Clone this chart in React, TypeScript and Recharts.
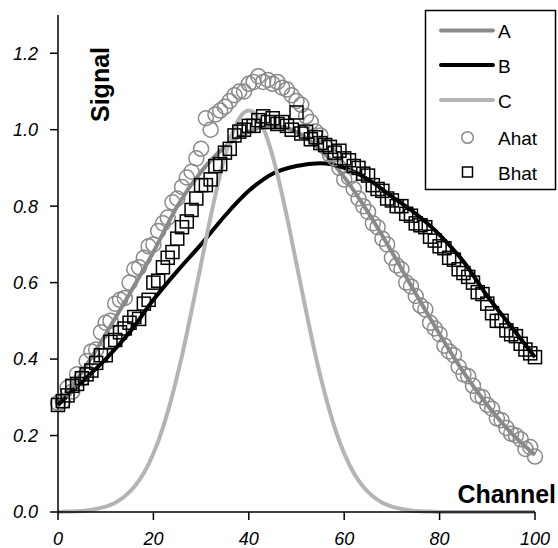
import React from "react";
import { ComposedChart, Line, XAxis, YAxis } from "recharts";

const FONT = "'Liberation Sans', Arial, sans-serif";

const xTicks = [0, 20, 40, 60, 80, 100];
const yTicks = [0, 0.2, 0.4, 0.6, 0.8, 1.0, 1.2];

// smooth curves A and B, read every 5 channels
const lineChannels = [0, 5, 10, 15, 20, 25, 30, 35, 40, 45, 50, 55, 60, 65, 70, 75, 80, 85, 90, 95, 100];
const aLine = [0.28, 0.366, 0.465, 0.571, 0.68, 0.8, 0.89, 0.955, 0.995, 1.01, 0.994, 0.948, 0.876, 0.784, 0.68, 0.571, 0.465, 0.366, 0.28, 0.207, 0.149];
const bLine = [0.28, 0.34, 0.4, 0.47, 0.555, 0.63, 0.7, 0.775, 0.84, 0.885, 0.905, 0.912, 0.9, 0.87, 0.825, 0.78, 0.725, 0.655, 0.565, 0.485, 0.405];

// curve C, read every 2 channels
const cChannels = [
  0, 2, 4, 6, 8, 10, 12, 14, 16, 18, 20, 22, 24, 26, 28, 30, 32, 34, 36, 38, 40, 42, 44, 46, 48, 50,
  52, 54, 56, 58, 60, 62, 64, 66, 68, 70, 72, 74, 76, 78, 80, 82, 84, 86, 88, 90, 92, 94, 96, 98, 100,
];
const cLine = [
  0, 0.001, 0.002, 0.004, 0.008, 0.014, 0.024, 0.041, 0.066, 0.102, 0.153, 0.221, 0.307, 0.409, 0.526, 0.649,
  0.772, 0.883, 0.972, 1.03, 1.05, 1.03, 0.972, 0.883, 0.772, 0.649, 0.526, 0.409, 0.307, 0.221, 0.153, 0.102,
  0.066, 0.041, 0.024, 0.014, 0.008, 0.004, 0.002, 0.001, 0, 0, 0, 0, 0, 0, 0, 0, 0, 0, 0,
];

// measured points, one per channel 0..100
const hatChannels = Array.from({ length: 101 }, (_, i) => i);
const aHat = [
  0.285, 0.29, 0.325, 0.315, 0.36, 0.35, 0.395, 0.42, 0.425, 0.47,
  0.495, 0.5, 0.545, 0.555, 0.56, 0.6, 0.635, 0.64, 0.665, 0.695,
  0.7, 0.735, 0.755, 0.77, 0.81, 0.82, 0.85, 0.875, 0.89, 0.925,
  0.95, 1.03, 1.0, 1.04, 1.05, 1.06, 1.075, 1.09, 1.1, 1.1,
  1.12, 1.125, 1.14, 1.125, 1.13, 1.12, 1.125, 1.11, 1.105, 1.09,
  1.075, 1.065, 1.035, 1.02, 0.995, 0.985, 0.955, 0.935, 0.925, 0.9,
  0.87, 0.875, 0.845, 0.82, 0.8, 0.785, 0.755, 0.745, 0.715, 0.7,
  0.665, 0.645, 0.635, 0.6, 0.59, 0.565, 0.54, 0.53, 0.495, 0.48,
  0.465, 0.435, 0.42, 0.41, 0.38, 0.36, 0.355, 0.33, 0.305, 0.3,
  0.28, 0.27, 0.245, 0.24, 0.22, 0.205, 0.2, 0.19, 0.165, 0.17,
  0.145,
];
const bHat = [
  0.28, 0.29, 0.305, 0.33, 0.335, 0.35, 0.36, 0.37, 0.39, 0.41,
  0.41, 0.445, 0.45, 0.47, 0.48, 0.495, 0.51, 0.505, 0.545, 0.555,
  0.6, 0.605, 0.64, 0.665, 0.68, 0.715, 0.745, 0.76, 0.79, 0.82,
  0.855, 0.855, 0.87, 0.905, 0.91, 0.94, 0.95, 0.985, 0.995, 1.0,
  1.01, 1.01, 1.025, 1.035, 1.02, 1.03, 1.015, 1.02, 1.01, 1.0,
  1.045, 0.99, 0.995, 0.975, 0.98, 0.965, 0.96, 0.955, 0.94, 0.945,
  0.925, 0.92, 0.905, 0.9, 0.885, 0.88, 0.855, 0.845, 0.84, 0.82,
  0.815, 0.8, 0.8, 0.78, 0.775, 0.755, 0.75, 0.745, 0.72, 0.71,
  0.695, 0.69, 0.665, 0.66, 0.635, 0.625, 0.615, 0.6, 0.575, 0.57,
  0.545, 0.52, 0.5, 0.5, 0.475, 0.465, 0.46, 0.44, 0.425, 0.415,
  0.405,
];

interface Row {
  x: number;
  a?: number;
  b?: number;
  c?: number;
  ahat?: number;
  bhat?: number;
}

function buildRows(): Row[] {
  const map = new Map<number, Row>();
  const get = (x: number) => {
    if (!map.has(x)) map.set(x, { x });
    return map.get(x)!;
  };
  hatChannels.forEach((x, i) => {
    const r = get(x);
    r.ahat = aHat[i];
    r.bhat = bHat[i];
  });
  lineChannels.forEach((x, i) => {
    const r = get(x);
    r.a = aLine[i];
    r.b = bLine[i];
  });
  cChannels.forEach((x, i) => {
    get(x).c = cLine[i];
  });
  return Array.from(map.values()).sort((p, q) => p.x - q.x);
}

const rows = buildRows();

function CircleDot(p: any) {
  if (p.cx == null || p.cy == null) return <g key={`ah-${p.index}`} />;
  return <circle key={`ah-${p.index}`} cx={p.cx} cy={p.cy} r={7.5} fill="none" stroke="#8a8a8a" strokeWidth={1.5} />;
}

function SquareDot(p: any) {
  if (p.cx == null || p.cy == null) return <g key={`bh-${p.index}`} />;
  return <rect key={`bh-${p.index}`} x={p.cx - 6.5} y={p.cy - 6.5} width={13} height={13} fill="none" stroke="#000" strokeWidth={1.5} />;
}

const tickStyle = { fontSize: 18, fontStyle: "italic", fill: "#000", fontFamily: FONT };

function Overlay() {
  const items = [
    { name: "A", y: 30.5, color: "#8a8a8a" },
    { name: "B", y: 65, color: "#000" },
    { name: "C", y: 100, color: "#b4b4b4" },
  ];
  return (
    <svg width={558} height={548} style={{ position: "absolute", left: 0, top: 0, pointerEvents: "none" }}>
      <text transform="translate(109,84.5) rotate(-90)" textAnchor="middle" fontSize={25} fontWeight="bold" fontFamily={FONT}>
        Signal
      </text>
      <text x={556} y={503} textAnchor="end" fontSize={25} fontWeight="bold" fontFamily={FONT}>
        Channel
      </text>
      <rect x={425.5} y={10.5} width={130} height={179} fill="#fff" stroke="#000" strokeWidth={1.5} />
      {items.map((it) => (
        <g key={it.name}>
          <line x1={441} x2={493} y1={it.y} y2={it.y} stroke={it.color} strokeWidth={4} strokeLinecap="round" />
          <text x={498} y={it.y + 7.5} fontSize={19} fontFamily={FONT}>{it.name}</text>
        </g>
      ))}
      <circle cx={467.5} cy={137.5} r={5.8} fill="none" stroke="#8a8a8a" strokeWidth={1.5} />
      <text x={498} y={145} fontSize={19} fontFamily={FONT}>Ahat</text>
      <rect x={462.5} y={167} width={10} height={10} fill="none" stroke="#000" strokeWidth={1.5} />
      <text x={498} y={180} fontSize={19} fontFamily={FONT}>Bhat</text>
    </svg>
  );
}

export default function App() {
  return (
    <div style={{ position: "absolute", left: 0, top: 0, width: 558, height: 548, background: "#fff" }}>
      <ComposedChart width={558} height={548} data={rows} margin={{ top: 15, right: 23, bottom: 0, left: 0 }}>
        <XAxis
          dataKey="x"
          type="number"
          domain={[0, 100]}
          ticks={xTicks}
          tickSize={8}
          tickMargin={12}
          height={36}
          stroke="#000"
          strokeWidth={1.5}
          tick={tickStyle}
        />
        <YAxis
          type="number"
          domain={[0, 1.3]}
          ticks={yTicks}
          tickSize={8}
          tickMargin={12}
          width={58}
          stroke="#000"
          strokeWidth={1.5}
          tick={tickStyle}
          tickFormatter={(v) => Number(v).toFixed(1)}
        />
        <Line dataKey="a" type="monotone" stroke="#8a8a8a" strokeWidth={4} dot={false} activeDot={false} connectNulls isAnimationActive={false} />
        <Line dataKey="b" type="monotone" stroke="#000" strokeWidth={4} dot={false} activeDot={false} connectNulls isAnimationActive={false} />
        <Line dataKey="c" type="monotone" stroke="#b4b4b4" strokeWidth={4} dot={false} activeDot={false} connectNulls isAnimationActive={false} />
        <Line dataKey="ahat" stroke="none" dot={CircleDot} activeDot={false} isAnimationActive={false} />
        <Line dataKey="bhat" stroke="none" dot={SquareDot} activeDot={false} isAnimationActive={false} />
      </ComposedChart>
      <Overlay />
    </div>
  );
}
